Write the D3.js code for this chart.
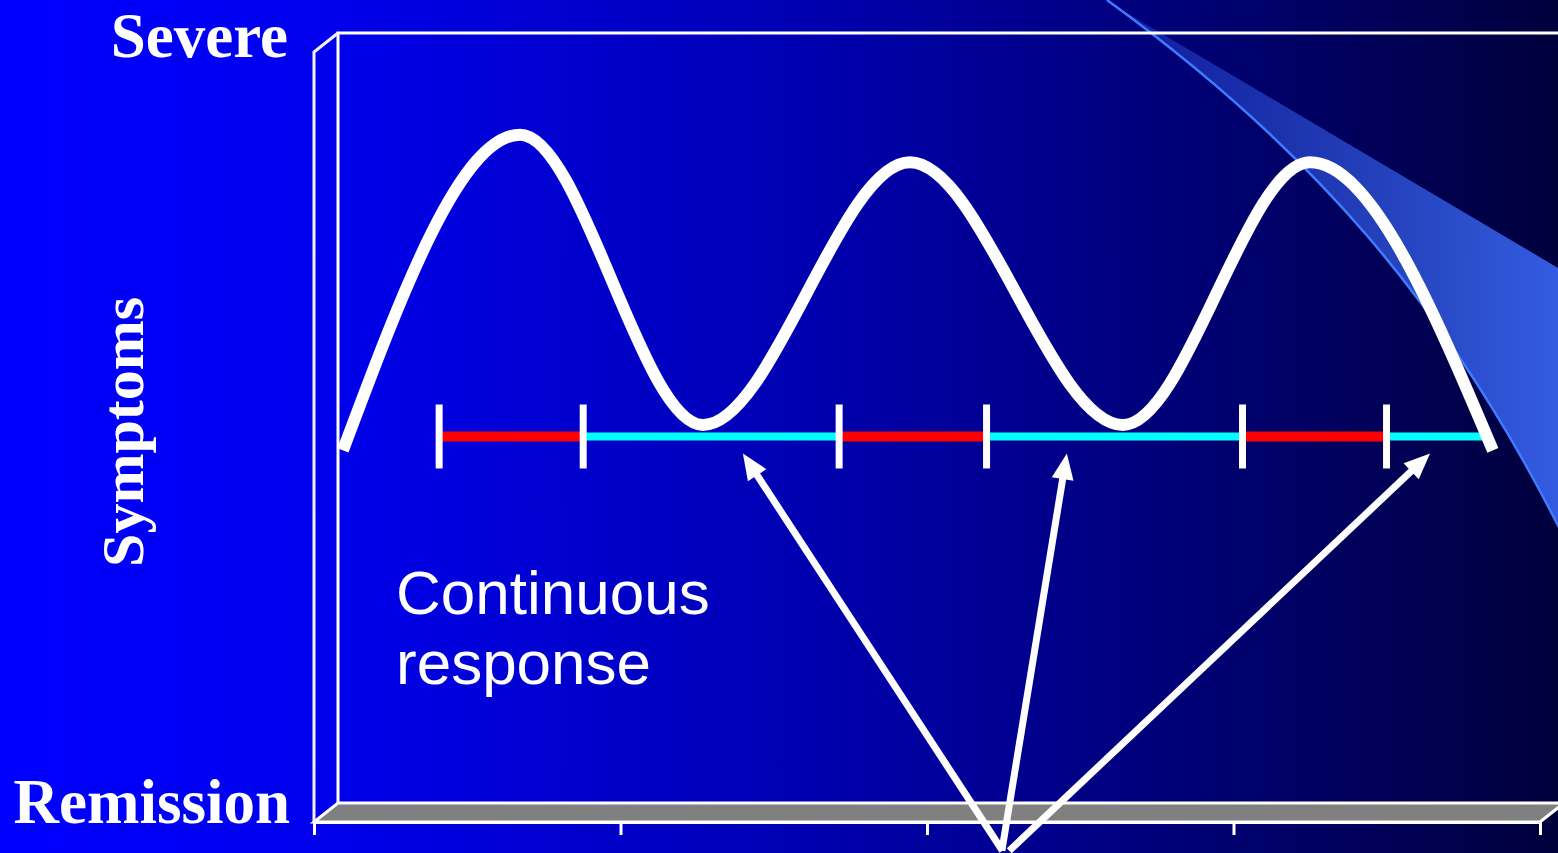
<!DOCTYPE html>
<html>
<head>
<meta charset="utf-8">
<script src="https://cdn.jsdelivr.net/npm/d3@7"></script>
<style>
body{margin:0;overflow:hidden;background:#000080;}
</style>
</head>
<body>
<script>

// symptom course: time in arbitrary units, severity 0 = remission .. 100 = severe
var curveTime = [0.016, 0.594, 1.191, 1.866, 2.561, 3.171, 3.768];
var curveSeverity = [45.8, 86.8, 49.1, 83.2, 49.1, 83.2, 45.8];

// treatment phases drawn along the response line
var phaseStart = [0.33, 0.80, 1.635, 2.116, 2.951, 3.421];
var phaseEnd = [0.80, 1.635, 2.116, 2.951, 3.421, 3.735];
var phaseType = ["acute", "continuation", "acute", "continuation", "acute", "continuation"];
var phaseLevel = 47.6;
var markTime = [0.33, 0.80, 1.635, 2.116, 2.951, 3.421];

// arrows pointing at the continuation phases
var arrowTipTime = [1.321, 2.378, 3.563];
var arrowTipLevel = 45.4;
var arrowBaseTime = [2.168, 2.166, 2.19];
var arrowBaseLevel = -6.2;

var xTicks = [0, 1, 2, 3, 4];
var yLabels = ["Remission", "Severe"];
var yTitle = "Symptoms";
var noteLines = ["Continuous", "response"];

var width = 1558, height = 853;
var depth = {dx: -24, dy: 19};	//offset of the front edge of the fake 3d box

var svg, x, y;

function initialize(){
	svg = d3.select("body").append("svg").attr("width", width).attr("height", height);

	x = d3.scaleLinear().domain([0, 4]).range([338, 1564]);
	y = d3.scaleLinear().domain([0, 100]).range([803, 33]);

	drawBackground();
	drawFrame();
	drawPhases();
	drawCurve();
	drawArrows();
	drawText();
}

function drawBackground(){
	var defs = svg.append("defs");

	var bg = defs.append("linearGradient").attr("id", "bg").attr("x1", "0%").attr("x2", "100%").attr("y1", "0%").attr("y2", "0%");
	bg.append("stop").attr("offset", "0%").attr("stop-color", "#0000ff");
	bg.append("stop").attr("offset", "20%").attr("stop-color", "#0000ee");
	bg.append("stop").attr("offset", "50%").attr("stop-color", "#0000b4");
	bg.append("stop").attr("offset", "75%").attr("stop-color", "#000078");
	bg.append("stop").attr("offset", "100%").attr("stop-color", "#00003c");

	svg.append("rect").attr("width", width).attr("height", height).attr("fill", "url(#bg)");

	//light swoosh in the top right corner
	var sw = defs.append("linearGradient").attr("id", "swoosh").attr("gradientUnits", "userSpaceOnUse")
		.attr("x1", 1105).attr("x2", width).attr("y1", 0).attr("y2", 0);
	sw.append("stop").attr("offset", "0%").attr("stop-color", "#3c6cff").attr("stop-opacity", 0.25);
	sw.append("stop").attr("offset", "45%").attr("stop-color", "#3c6cff").attr("stop-opacity", 0.5);
	sw.append("stop").attr("offset", "100%").attr("stop-color", "#3c6cff").attr("stop-opacity", 0.85);

	var edge = "M1107,0C1300,140 1450,300 1575,560";
	svg.append("path")
		.attr("d", edge + "L1575,278L1105,0Z")
		.attr("fill", "url(#swoosh)");
	svg.append("path").attr("d", edge).attr("fill", "none").attr("stroke", "#3f7bff").attr("stroke-width", 2.5);
}

function drawFrame(){
	var g = svg.append("g").attr("class", "frame");

	//floor
	g.append("path")
		.attr("d", d3.line()([
			[x(0), y(0)], [x(4), y(0)], [x(4) + depth.dx, y(0) + depth.dy], [x(0) + depth.dx, y(0) + depth.dy]
		]) + "Z")
		.attr("fill", "#808080")
		.attr("stroke", "#ffffff")
		.attr("stroke-width", 3);

	//back wall
	g.append("path")
		.attr("d", d3.line()([[x(4), y(100)], [x(0), y(100)], [x(0), y(0)]]))
		.attr("fill", "none").attr("stroke", "#ffffff").attr("stroke-width", 3);

	//side wall
	g.append("path")
		.attr("d", d3.line()([
			[x(0), y(100)], [x(0) + depth.dx, y(100) + depth.dy], [x(0) + depth.dx, y(0) + depth.dy]
		]))
		.attr("fill", "none").attr("stroke", "#f2f2f2").attr("stroke-width", 3);

	//front axis with tick marks
	var xFront = d3.scaleLinear().domain(x.domain()).range(x.range().map(function(d){ return d + depth.dx; }));
	var axis = g.append("g")
		.attr("transform", "translate(0," + (y(0) + depth.dy) + ")")
		.call(d3.axisBottom(xFront).tickValues(xTicks).tickSize(13).tickSizeOuter(0).tickFormat(""));
	axis.select(".domain").attr("stroke", "#ffffff").attr("stroke-width", 3);
	axis.selectAll(".tick line").attr("stroke", "#ffffff").attr("stroke-width", 3);
}

function drawPhases(){
	var g = svg.append("g").attr("class", "phases");
	var phases = phaseStart.map(function(d, i){ return {start: d, end: phaseEnd[i], type: phaseType[i]}; });

	g.selectAll(".phase")
		.data(phases)
		.enter().append("line")
		.attr("class", "phase")
		.attr("x1", function(d){ return x(d.start); })
		.attr("x2", function(d){ return x(d.end); })
		.attr("y1", y(phaseLevel))
		.attr("y2", y(phaseLevel))
		.attr("stroke", function(d){ return d.type === "acute" ? "#ff0000" : "#00ffff"; })
		.attr("stroke-width", function(d){ return d.type === "acute" ? 10 : 8; });

	g.selectAll(".mark")
		.data(markTime)
		.enter().append("line")
		.attr("class", "mark")
		.attr("x1", function(d){ return x(d); })
		.attr("x2", function(d){ return x(d); })
		.attr("y1", y(phaseLevel) - 32)
		.attr("y2", y(phaseLevel) + 32)
		.attr("stroke", "#ffffff")
		.attr("stroke-width", 7);
}

function drawCurve(){
	var pts = curveTime.map(function(d, i){ return [d, curveSeverity[i]]; });
	var line = d3.line()
		.x(function(d){ return x(d[0]); })
		.y(function(d){ return y(d[1]); })
		.curve(d3.curveMonotoneX);

	svg.append("path")
		.attr("d", line(pts))
		.attr("fill", "none")
		.attr("stroke", "#ffffff")
		.attr("stroke-width", 12);
}

function drawArrows(){
	var g = svg.append("g").attr("class", "arrows");
	var headLen = 26, headHalf = 11;

	for (var i = 0; i < arrowTipTime.length; i++){
		var tx = x(arrowTipTime[i]), ty = y(arrowTipLevel);
		var bx = x(arrowBaseTime[i]), by = y(arrowBaseLevel);
		var len = Math.sqrt((tx - bx) * (tx - bx) + (ty - by) * (ty - by));
		var ux = (tx - bx) / len, uy = (ty - by) / len;
		var nx = -uy, ny = ux;

		g.append("line")
			.attr("x1", bx).attr("y1", by)
			.attr("x2", tx - ux * (headLen - 4)).attr("y2", ty - uy * (headLen - 4))
			.attr("stroke", "#ffffff").attr("stroke-width", 7);

		g.append("path")
			.attr("d", d3.line()([
				[tx, ty],
				[tx - ux * headLen + nx * headHalf, ty - uy * headLen + ny * headHalf],
				[tx - ux * headLen - nx * headHalf, ty - uy * headLen - ny * headHalf]
			]) + "Z")
			.attr("fill", "#ffffff");
	}
}

function drawText(){
	var serif = "'Liberation Serif', 'Times New Roman', serif";

	svg.append("text")
		.attr("x", 288).attr("y", y(100) + 24)
		.attr("text-anchor", "end")
		.attr("font-family", serif).attr("font-weight", "bold").attr("font-size", 63)
		.attr("fill", "#ffffff")
		.text(yLabels[1]);

	svg.append("text")
		.attr("x", 290).attr("y", y(0) + 20)
		.attr("text-anchor", "end")
		.attr("font-family", serif).attr("font-weight", "bold").attr("font-size", 63)
		.attr("fill", "#ffffff")
		.text(yLabels[0]);

	svg.append("text")
		.attr("transform", "translate(143," + y(48.2) + ") rotate(-90)")
		.attr("text-anchor", "middle")
		.attr("font-family", serif).attr("font-weight", "bold").attr("font-size", 60)
		.attr("fill", "#ffffff")
		.text(yTitle);

	svg.append("g").selectAll("text")
		.data(noteLines)
		.enter().append("text")
		.attr("x", 396)
		.attr("y", function(d, i){ return 614 + i * 70; })
		.attr("font-family", "'Liberation Sans', Arial, sans-serif")
		.attr("font-size", 62)
		.attr("fill", "#ffffff")
		.text(function(d){ return d; });
}

initialize();
</script>
</body>
</html>
